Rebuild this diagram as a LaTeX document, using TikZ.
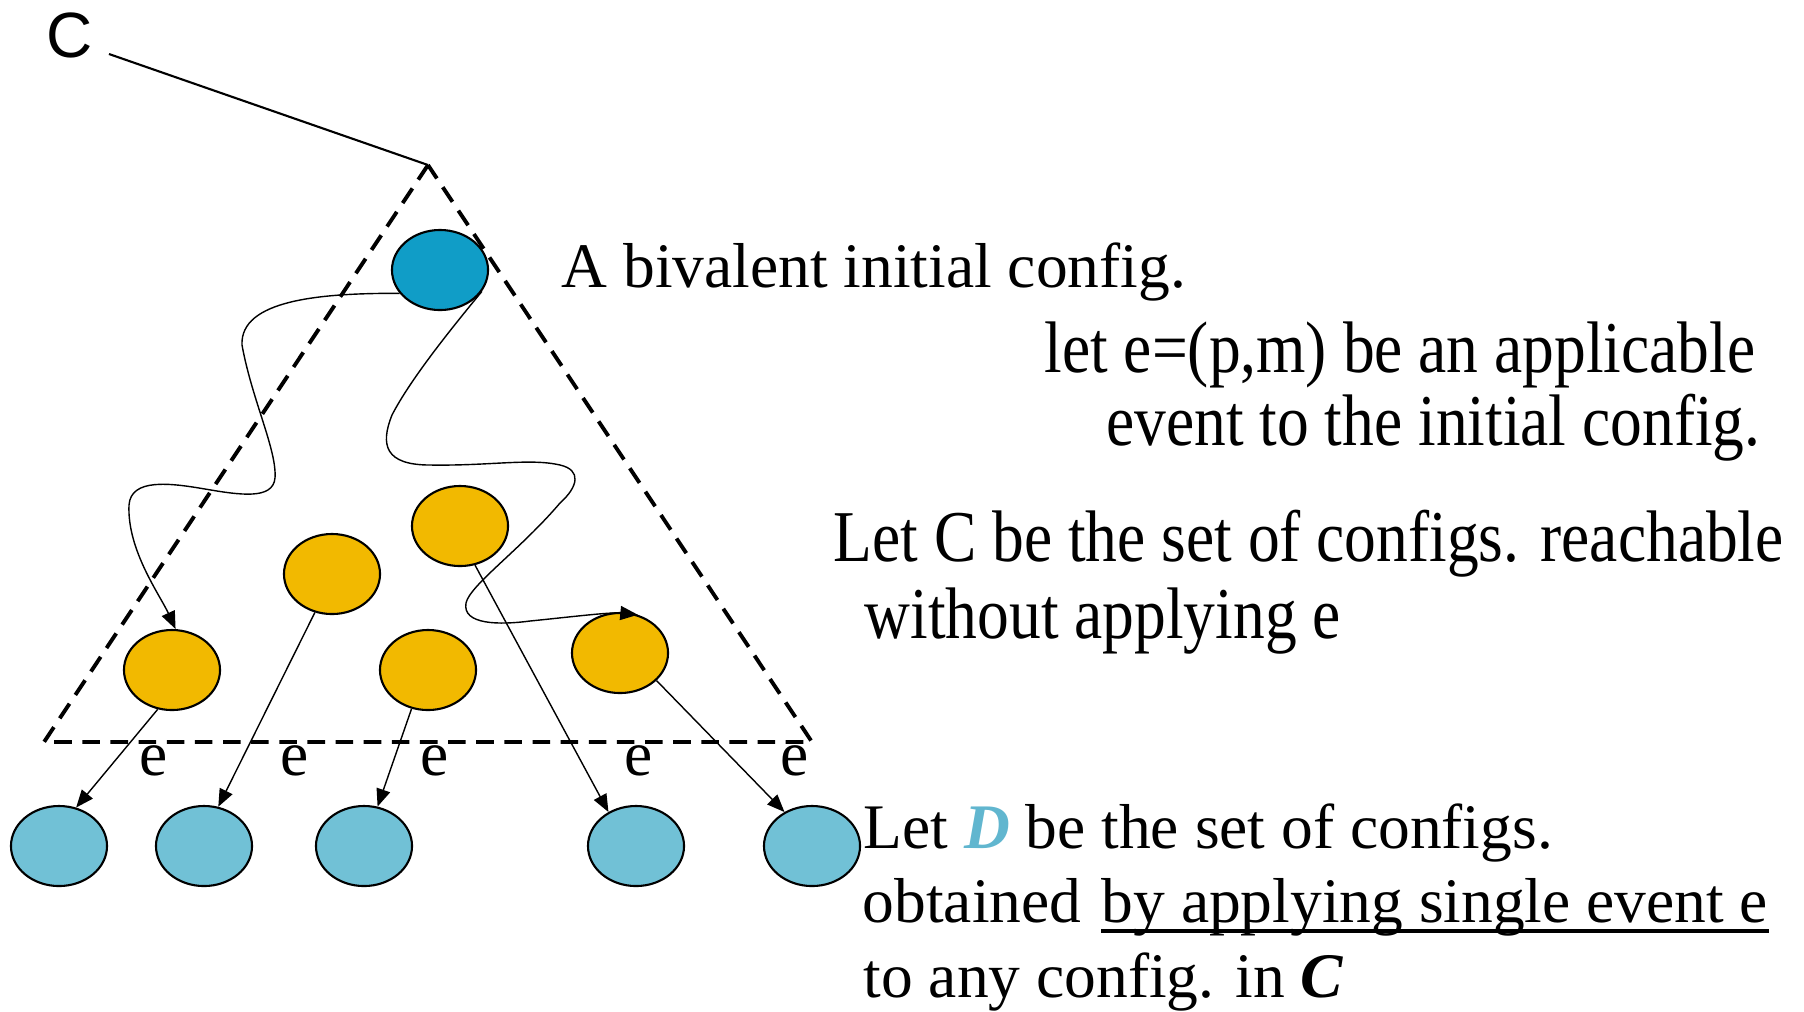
\documentclass[tikz,border=0pt]{standalone}
\usepackage{fontspec}
\usepackage{graphicx}
\setmainfont{Liberation Serif}
\newfontfamily\labelfont{Liberation Sans}
\usepackage{tikz}
\usetikzlibrary{arrows.meta,shapes.geometric,positioning}
\definecolor{initblue}{RGB}{16,157,199}
\definecolor{confyellow}{RGB}{242,185,0}
\definecolor{stepblue}{RGB}{113,193,214}
\definecolor{dblue}{RGB}{97,182,207}

\begin{document}
\begin{tikzpicture}[x=0.01cm,y=-0.01cm,>={Triangle[length=5pt,width=4pt]},
                    thin,font=\fontsize{18.05}{21}\selectfont]
  \tikzstyle{cfg}=[ellipse,draw,line width=0.6pt,inner sep=0pt,
                   minimum width=0.96cm,minimum height=0.8cm]
  \tikzstyle{txt}=[inner sep=0pt,anchor=base west]
  \tikzstyle{border}=[line width=1.1pt,dash pattern=on 5pt off 3pt]

  \useasboundingbox (0,0) rectangle (1804,1011);

  % configs
  \node[cfg,fill=initblue]   (init) at (440,270) {};
  \node[cfg,fill=confyellow] (c1)   at (172,670) {};
  \node[cfg,fill=confyellow] (c2)   at (332,574) {};
  \node[cfg,fill=confyellow] (c3)   at (460,526) {};
  \node[cfg,fill=confyellow] (c4)   at (428,670) {};
  \node[cfg,fill=confyellow] (c5)   at (620,653) {};
  \node[cfg,fill=stepblue]   (d1)   at (59,846)  {};
  \node[cfg,fill=stepblue]   (d2)   at (204,846) {};
  \node[cfg,fill=stepblue]   (d3)   at (364,846) {};
  \node[cfg,fill=stepblue]   (d4)   at (636,846) {};
  \node[cfg,fill=stepblue]   (d5)   at (812,846) {};

  % the set C
  \coordinate (apex) at (428,165);
  \coordinate (bl)   at (44,742);
  \coordinate (br)   at (812,742);
  \draw[border] (apex) -- (bl) -- (br) -- cycle;

  \node[font=\labelfont\fontsize{18.2}{21}\selectfont] (clabel) at (70,35) {C};
  \coordinate (ctail) at (109,54);
  \draw[line width=0.6pt] (ctail) -- (apex);

  % runs without e
  \draw[->] (init.210) .. controls (320,293) and (240,300) .. (242,345)
    .. controls (252,400) and (277,450) .. (275,478)
    .. controls (273,500) and (240,495) .. (205,489)
    .. controls (170,483) and (131,478) .. (129,505)
    .. controls (127,550) and (160,595) .. (c1.85);
  \draw[->] (init.333) .. controls (450,330) and (410,380) .. (392,415)
    .. controls (380,445) and (385,465) .. (430,465)
    .. controls (490,466) and (530,458) .. (560,465)
    .. controls (582,470) and (578,487) .. (560,503)
    .. controls (520,550) and (470,585) .. (466,603)
    .. controls (462,625) and (500,625) .. (530,621)
    .. controls (570,617) and (610,612) .. (c5.65);

  % applying e
  \path[->] (c1.250) edge (d1.66)
            (c2.246) edge (d2.70)
            (c4.247) edge (d3.71)
            (c3.291) edge (d4.129)
            (c5.323) edge (d5.129);

  \node[txt,anchor=base] (e1) at (154,775) {e};
  \node[txt,anchor=base] (e2) at (295,775) {e};
  \node[txt,anchor=base] (e3) at (435,775) {e};
  \node[txt,anchor=base] (e4) at (639,775) {e};
  \node[txt,anchor=base] (e5) at (795,775) {e};

  % text
  \node[txt] (bival) at (561,287) {A bivalent initial config.};
  \node[txt,anchor=base east] (lete1) at (1756,372) {\scalebox{1}[1.15]{let e=(p,m) be an applicable}};
  \node[txt,anchor=base east] (lete2) at (1761,445) {\scalebox{1}[1.15]{event to the initial config.}};
  \node[txt] (letc1) at (833,561) {\scalebox{1}[1.15]{Let C be the set of configs. reachable}};
  \node[txt] (letc2) at (864,638) {\scalebox{1}[1.15]{without applying e}};
  \node[txt] (letd1) at (863,848) {Let {\color{dblue}\bfseries\itshape D} be the set of configs.};
  \node[txt] (letd2) at (862,922) {obtained};
  \node[txt] (letd3) at (1101,922) {by applying single event e};
  \node[txt] (letd4) at (863,997) {to any config. in \textbf{\textit{C}}};
  \draw[line width=1.1pt] ([yshift=-2.6pt]letd3.base west) -- ([yshift=-2.6pt]letd3.base east);

\end{tikzpicture}
\end{document}
